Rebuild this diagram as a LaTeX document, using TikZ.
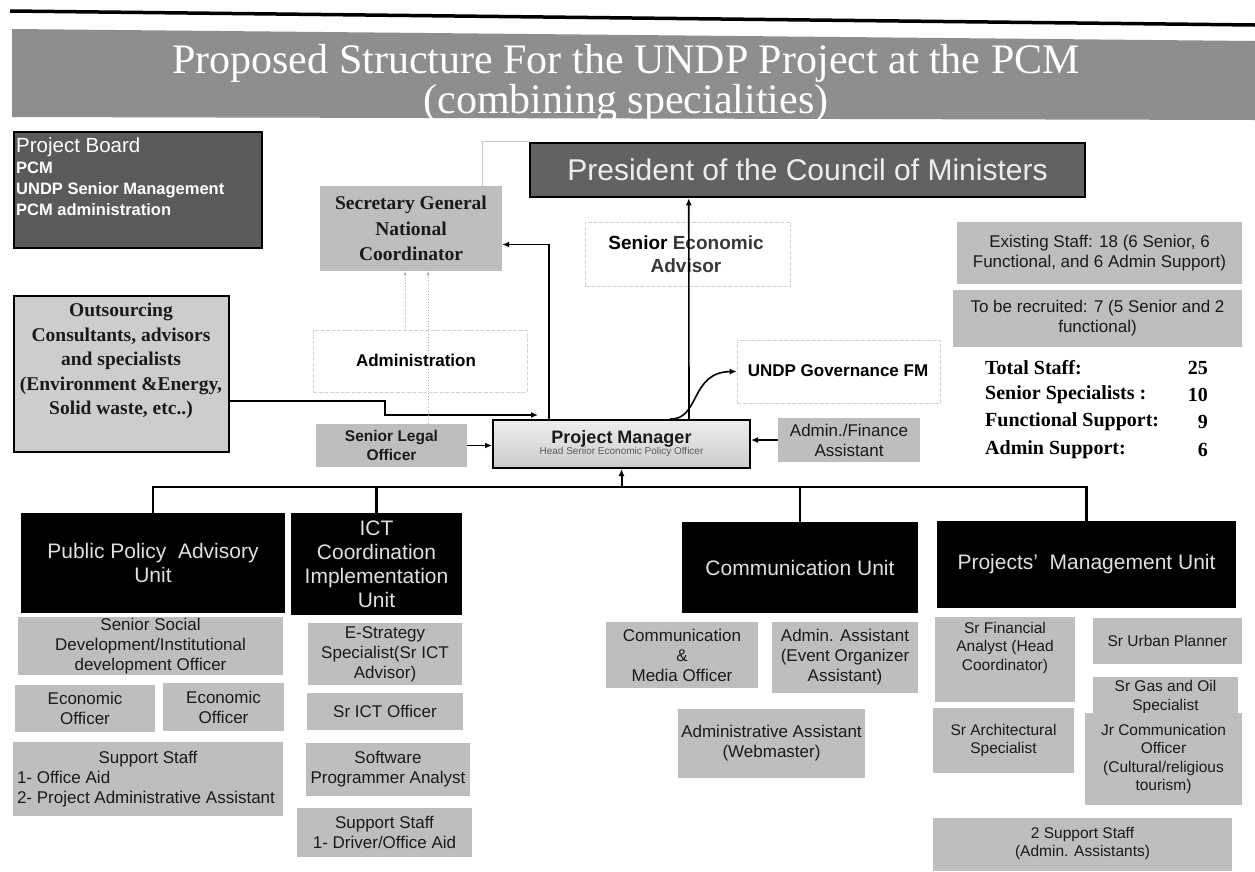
\documentclass[tikz,border=0pt]{standalone}
\usepackage{fontspec}
\setmainfont{Liberation Serif}
\setsansfont{Liberation Sans}
\usetikzlibrary{arrows.meta}
\definecolor{bannerc}{HTML}{8E8E8E}
\definecolor{darkc}{HTML}{5A5A5A}
\definecolor{lightc}{HTML}{BEBEBE}
\definecolor{outsc}{HTML}{CDCDCD}
\definecolor{faintc}{HTML}{D4D4D4}
\definecolor{txtc}{HTML}{1A1A1A}
\newcommand\mybox[7]{\node[#2, minimum width={#5-#3}, minimum height={#6-#4}] (#1) at ({(#3+#5)/2},{(#4+#6)/2}) {#7};}
\begin{document}
\begin{tikzpicture}[x=1pt,y=-1pt,
  gbox/.style={fill=lightc, draw=none, inner sep=0pt, align=center, text=txtc,
    font=\sffamily\fontsize{17}{20}\selectfont},
  pbox/.style={gbox, font=\sffamily\fontsize{15.5}{18.5}\selectfont},
  ubox/.style={fill=black, draw=none, inner sep=0pt, align=center, text=white!88!black,
    font=\sffamily\fontsize{21}{24}\selectfont},
  serifb/.style={font=\bfseries\fontsize{19.5}{25.5}\selectfont, text=txtc},
  faintbox/.style={draw=faintc, line width=0.6pt, dash pattern=on 4pt off 1.5pt, inner sep=0pt},
  conn/.style={line width=1.6pt, -{Latex[length=7pt,width=6pt]}},
  busline/.style={line width=2.8pt},
  faintarrow/.style={draw=black!30, line width=0.7pt, dotted, -{Latex[length=4pt,width=3pt]}},
  faintline/.style={draw=black!22, line width=0.7pt},
  totl/.style={anchor=west, inner sep=0pt, font=\bfseries\fontsize{20}{20}\selectfont},
  totn/.style={anchor=east, inner sep=0pt, font=\bfseries\fontsize{20}{20}\selectfont}
]
\useasboundingbox (0,0) rectangle (1255,871);
\fill[white] (0,0) rectangle (1255,871);
% top rule and banner
\draw[line width=3.5pt] (10,11) -- (1255,25);
\fill[bannerc] (12,29) -- (1255,41) -- (1255,120) -- (12,117) -- cycle;
\node[font=\fontsize{42}{40}\selectfont, text=white, align=center] (title) at (626,83)
  {Proposed Structure For the UNDP Project at the PCM\\(combining specialities)};

% project board
\mybox{pb}{fill=darkc, draw=black, line width=2pt, inner sep=0pt}{14}{132}{262}{248}{}
\node[anchor=north west, align=left, inner sep=0pt, text=white,
  font=\sffamily\bfseries\fontsize{16.5}{21}\selectfont] (pbt) at (16,137)
  {{\mdseries\fontsize{20.5}{21}\selectfont Project Board}\\PCM\\UNDP Senior Management\\PCM administration};

% president
\mybox{pres}{fill=darkc!95!white, draw=black, line width=2.5pt, inner sep=0pt, text=white!93!black,
  font=\sffamily\fontsize{30}{30}\selectfont}{530}{143}{1085}{197}{President of the Council of Ministers}

% secretary general
\mybox{sg}{fill=lightc, inner sep=0pt, align=center, serifb}{320}{186}{502}{271}{Secretary General\\National\\Coordinator}

% senior economic advisor
\mybox{sea}{faintbox}{585}{222}{790}{286}{}
\node[font=\sffamily\bfseries\fontsize{19}{23}\selectfont, align=center, text=black!78] (seat) at (686,254)
  {{\color{black}Senior} Economic\\Advisor};

% staff boxes right
\mybox{ex}{gbox}{957}{222}{1242}{284}{Existing Staff: 18 (6 Senior, 6\\Functional, and 6 Admin Support)}
\mybox{rec}{gbox}{953}{290}{1242}{347}{To be recruited: 7 (5 Senior and 2\\functional)}

\node[totl] (t1) at (985,368) {Total Staff:};
\node[totn] (n1) at (1208,368) {25};
\node[totl] (t2) at (985,395) {Senior Specialists :};
\node[totn] (n2) at (1208,395) {10};
\node[totl] (t3) at (985,422) {Functional Support:};
\node[totn] (n3) at (1208,422) {9};
\node[totl] (t4) at (985,450) {Admin Support:};
\node[totn] (n4) at (1208,450) {6};

% outsourcing
\mybox{outs}{fill=outsc, draw=black, line width=2.5pt, inner sep=0pt}{14}{296}{229}{452}{}
\node[inner sep=0pt, align=center, font=\bfseries\fontsize{19.5}{24.5}\selectfont, text=txtc] (outst) at (121,361)
  {Outsourcing\\Consultants, advisors\\and specialists\\(Environment \&Energy,\\Solid waste, etc..)};

% administration
\mybox{adm}{faintbox}{313}{330}{527}{392}{}
\node[font=\sffamily\bfseries\fontsize{17}{17}\selectfont] (admt) at (416,360) {Administration};

% UNDP governance
\mybox{gov}{faintbox}{737}{340}{940}{403}{}
\node[font=\sffamily\bfseries\fontsize{17}{17}\selectfont] (govt) at (838,371) {UNDP Governance FM};

% middle row
\mybox{slo}{gbox, font=\sffamily\bfseries\fontsize{15.5}{19}\selectfont}{316}{424}{467}{467}{Senior Legal\\Officer}
\mybox{pm}{draw=black, line width=2pt, top color=white!93!black, bottom color=white!80!black,
  inner sep=0pt, align=center, text=txtc}{493}{420}{750}{468}
  {{\sffamily\bfseries\fontsize{18}{19}\selectfont Project Manager}\\[-1pt]{\sffamily\fontsize{10}{10}\selectfont\color{black!65}Head Senior Economic Policy Officer}}
\mybox{afa}{gbox}{778}{418}{920}{462}{Admin./Finance\\Assistant}

% units
\mybox{ppu}{ubox}{21}{513}{285}{613}{Public Policy\ \ Advisory\\Unit}
\mybox{ict}{ubox}{291}{513}{462}{615}{ICT\\Coordination\\Implementation\\Unit}
\mybox{comm}{ubox}{682}{522}{918}{613}{Communication Unit}
\mybox{pmu}{ubox}{937}{521}{1236}{608}{Projects'\ \ Management Unit}

% public policy staff
\mybox{ssd}{gbox}{18}{617}{283}{675}{Senior Social\\Development/Institutional\\development Officer}
\mybox{eo1}{gbox}{15}{685}{155}{732}{Economic\\Officer}
\mybox{eo2}{gbox}{163}{683}{284}{731}{Economic\\Officer}
\mybox{ss1}{gbox, align=left}{13}{742}{283}{816}{\makebox[262pt][c]{Support Staff}\\1- Office Aid\\2- Project Administrative Assistant}

% ICT staff
\mybox{est}{gbox}{308}{623}{462}{685}{E-Strategy\\Specialist(Sr ICT\\Advisor)}
\mybox{sict}{gbox}{307}{693}{463}{730}{Sr ICT Officer}
\mybox{spa}{gbox}{306}{743}{470}{796}{Software\\Programmer Analyst}
\mybox{ss2}{gbox}{297}{808}{472}{857}{Support Staff\\1- Driver/Office Aid}

% communication staff
\mybox{cmo}{gbox}{606}{622}{758}{688}{Communication\\\&\\Media Officer}
\mybox{aae}{gbox}{772}{622}{918}{693}{Admin. Assistant\\(Event Organizer\\Assistant)}
\mybox{aaw}{gbox}{678}{709}{865}{778}{Administrative Assistant\\(Webmaster)}

% projects staff
\mybox{sfa}{gbox}{935}{617}{1075}{702}{}
\node[anchor=north, align=center, inner sep=0pt, text=txtc, font=\sffamily\fontsize{15.5}{18.5}\selectfont] (sfat) at ([yshift=-5pt]sfa.north) {Sr Financial\\Analyst (Head\\Coordinator)};
\mybox{sup}{pbox}{1093}{618}{1242}{664}{Sr Urban Planner}
\mybox{sgo}{pbox}{1093}{677}{1238}{717}{Sr Gas and Oil\\Specialist}
\mybox{sar}{pbox}{933}{708}{1074}{773}{Sr Architectural\\Specialist}
\mybox{jco}{pbox}{1085}{713}{1242}{805}{Jr Communication\\Officer\\(Cultural/religious\\tourism)}
\mybox{tss}{gbox}{933}{818}{1232}{871}{}
\node[anchor=north, align=center, inner sep=0pt, text=txtc, font=\sffamily\fontsize{15.5}{18.5}\selectfont] (tsst) at ([yshift=-9pt]tss.north) {2 Support Staff\\(Admin. Assistants)};

% coordinates for connectors
\coordinate (bj) at (621.5,487);
\coordinate (oa) at (385,401);
\coordinate (ob) at (538,415);
\coordinate (ax1) at (405,0);
\coordinate (ax2) at (428,0);
\coordinate (ax3) at (482,0);

% connectors
\draw[busline] (ppu.north) |- (bj) -| (pmu.north);
\draw[busline] (ict.north) -- (ict.north |- bj);
\draw[busline] (comm.north) -- (comm.north |- bj);
\draw[conn, line width=2pt] (bj) -- (pm.south);
\draw[conn] (slo.east) -- (slo.east -| pm.west);
\draw[conn] (afa.west) -- (afa.west -| pm.east);
\draw[conn] (outs.east |- oa) -- (oa) |- (ob);
\draw[conn] ([xshift=57pt]pm.north west) |- ([yshift=-16pt]sg.east);
\draw[conn] ([xshift=197pt]pm.north west) -- ([xshift=160pt]pres.south west);
\draw[conn] ([xshift=178pt]pm.north west) .. controls (700,420) and (690,372) .. (gov.west);
\draw[faintarrow] (adm.north -| ax1) -- (sg.south -| ax1);
\draw[faintarrow] (slo.north -| ax2) -- (sg.south -| ax2);
\draw[faintline] (sg.north -| ax3) |- (pres.north west);
\end{tikzpicture}
\end{document}
